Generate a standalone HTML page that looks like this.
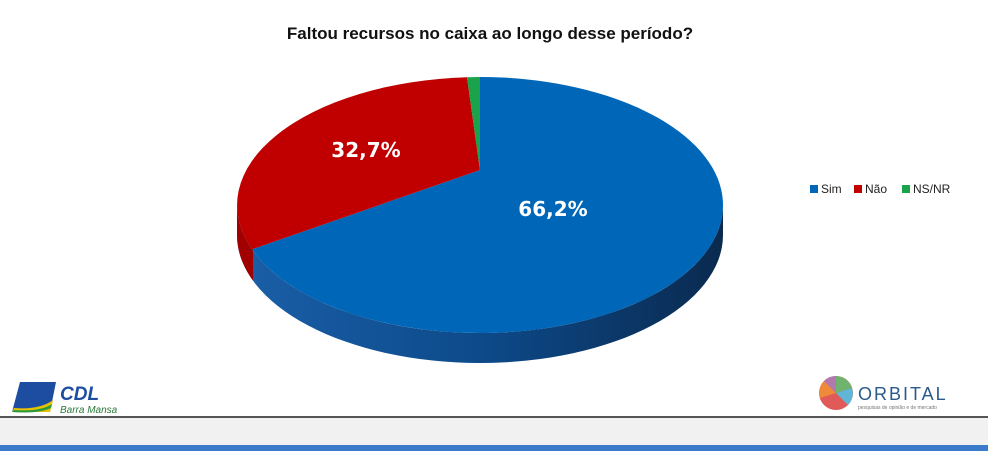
<!DOCTYPE html>
<html><head><meta charset="utf-8"><style>
body{margin:0;width:988px;height:451px;overflow:hidden;background:#fff;font-family:"Liberation Sans",sans-serif}
</style></head><body>
<svg width="988" height="451" viewBox="0 0 988 451" xmlns="http://www.w3.org/2000/svg">
<defs>
<linearGradient id="sg" x1="237" x2="723" y1="0" y2="0" gradientUnits="userSpaceOnUse">
<stop offset="0" stop-color="#1a5fa8"/><stop offset="0.5" stop-color="#0d4a8a"/><stop offset="1" stop-color="#0a2a4f"/>
</linearGradient>
<clipPath id="lc"><rect x="0" y="0" width="253" height="451"/></clipPath>
</defs>
<text x="490" y="39" text-anchor="middle" font-size="17" font-weight="bold" fill="#111">Faltou recursos no caixa ao longo desse período?</text>
<path d="M237,205 A243,128 0 0 0 723,205 L723,235 A243,128 0 0 1 237,235 Z" fill="url(#sg)"/>
<path d="M237,205 A243,128 0 0 0 723,205 L723,235 A243,128 0 0 1 237,235 Z" fill="#a00000" clip-path="url(#lc)"/>
<path d="M480,170 L480,77 A243,128 0 1 1 252,249.3 Z" fill="#0067b8"/>
<path d="M480,170 L252,249.3 A243,128 0 0 1 467,77.3 Z" fill="#c00000"/>
<path d="M480,170 L467,77.3 A243,128 0 0 1 480,77 Z" fill="#1aa34a"/>
<text x="366" y="157" text-anchor="middle" font-size="20" font-weight="bold" fill="#fff" font-family="DejaVu Sans, sans-serif">32,7%</text>
<text x="553" y="216" text-anchor="middle" font-size="20" font-weight="bold" fill="#fff" font-family="DejaVu Sans, sans-serif">66,2%</text>
<rect x="810" y="185" width="8" height="8" fill="#0067b8"/>
<text x="821" y="193" font-size="12" fill="#222">Sim</text>
<rect x="854" y="185" width="8" height="8" fill="#c00000"/>
<text x="865" y="193" font-size="12" fill="#222">Não</text>
<rect x="902" y="185" width="8" height="8" fill="#1aa34a"/>
<text x="913" y="193" font-size="12" fill="#222">NS/NR</text>
<path d="M20,382 L56,382 L50,412 L12,412 Z" fill="#1c4da0"/>
<path d="M12,412 L50,412 L53,400 Q40,410 14,408 Z" fill="#e6c200"/>
<path d="M14,410 Q40,412 52,404 L51,408 Q38,414 12,412 Z" fill="#2a9a3a"/>
<text x="60" y="400" font-size="19" font-weight="bold" font-style="italic" fill="#1c4da0">CDL</text>
<text x="60" y="413" font-size="10" font-style="italic" fill="#2a7a3a">Barra Mansa</text>
<circle cx="836" cy="393" r="17" fill="#e05a5a"/>
<path d="M836,393 L836,376 A17,17 0 0 1 852,388 Z" fill="#6fb36f"/>
<path d="M836,393 L852,388 A17,17 0 0 1 848,405 Z" fill="#5fb6d6"/>
<path d="M836,393 L820,398 A17,17 0 0 1 824,381 Z" fill="#ef8a3a"/>
<path d="M836,393 L824,381 A17,17 0 0 1 836,376 Z" fill="#b07ab0"/>
<text x="858" y="400" font-size="18" fill="#2a5a8a" letter-spacing="2">ORBITAL</text>
<text x="858" y="409" font-size="5" fill="#777">pesquisas de opinião e de mercado</text>
<rect x="0" y="416" width="988" height="2" fill="#555"/>
<rect x="0" y="418" width="988" height="27" fill="#f1f1f1"/>
<rect x="0" y="445" width="988" height="6" fill="#3b7bcc"/>
</svg>
</body></html>
